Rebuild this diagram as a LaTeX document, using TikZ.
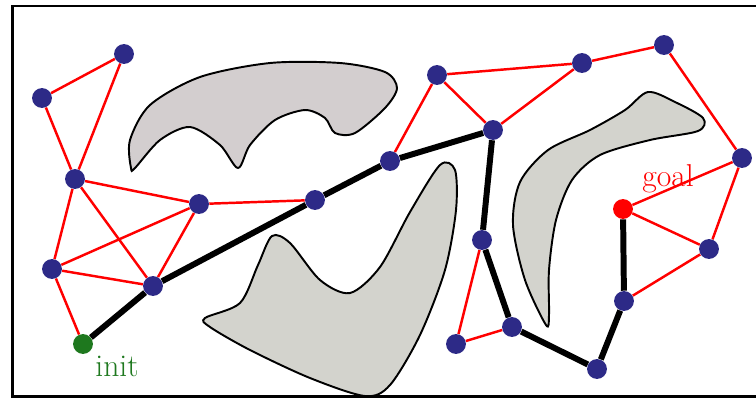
\documentclass[tikz,border=0pt]{standalone}
\usepackage{tikz}
\usetikzlibrary{positioning,backgrounds}
\definecolor{vblue}{RGB}{45,42,135}
\definecolor{igreen}{RGB}{30,120,30}
\definecolor{obsA}{RGB}{211,206,207}
\definecolor{obsB}{RGB}{211,211,205}

\begin{document}
\begin{tikzpicture}[x=0.02cm,y=-0.02cm,
    vertex/.style={circle,fill=vblue,inner sep=0pt,minimum size=11.3pt},
    edge/.style={red,line width=1.4pt},
    route/.style={black,line width=3.4pt,line join=round},
    obstacle/.style={draw=black,line width=1.1pt}]
  \useasboundingbox (0,0) rectangle (756,397);
  \clip (0,0) rectangle (756,397);
  % roadmap vertices
  \node[vertex] (v1) at (42,98) {};
  \node[vertex] (v2) at (124,54) {};
  \node[vertex] (v3) at (75,179) {};
  \node[vertex] (v4) at (52,269) {};
  \node[vertex] (v5) at (153,286) {};
  \node[vertex] (v6) at (199,204) {};
  \node[vertex] (v7) at (315,200) {};
  \node[vertex] (v8) at (390,161) {};
  \node[vertex] (v9) at (437,75) {};
  \node[vertex] (v10) at (493,130) {};
  \node[vertex] (v11) at (582,63) {};
  \node[vertex] (v12) at (664,45) {};
  \node[vertex] (v13) at (742,158) {};
  \node[vertex] (v14) at (709,249) {};
  \node[vertex] (v15) at (624,301) {};
  \node[vertex] (v16) at (597,369) {};
  \node[vertex] (v17) at (512,327) {};
  \node[vertex] (v18) at (482,240) {};
  \node[vertex] (v19) at (456,344) {};
  \node[vertex,fill=igreen] (init) at (83,344) {};
  \node[vertex,fill=red] (goal) at (623,209) {};
  \node[igreen,font=\fontsize{18}{20}\selectfont] (initlbl) at (117,366) {init};
  \node[red,font=\fontsize{18}{20}\selectfont] (goallbl) at (668,179) {goal};
  \begin{pgfonlayer}{background}
  \draw[line width=1.4pt] (12.5,6) rectangle (770,396.5);
  % obstacles
  \draw[obstacle,fill=obsA] plot[smooth cycle,tension=0.5] coordinates {
    (131,168) (130,140) (150,105) (200,77) (270,63) (340,63) (385,72)
    (397,88) (385,108) (355,133) (335,133) (325,118) (305,110) (275,120)
    (250,145) (238,168) (220,145) (190,127) (160,140) (135,168)};
  \draw[obstacle,fill=obsB] plot[smooth cycle,tension=0.5] coordinates {
    (205,318) (240,303) (258,265) (272,236) (290,243) (320,280) (350,293)
    (380,267) (410,212) (440,165) (455,170) (456,210) (445,270) (420,335)
    (390,385) (365,396) (310,378) (250,350) (210,327)};
  \draw[obstacle,fill=obsB] plot[smooth cycle,tension=0.5] coordinates {
    (546,325) (525,280) (513,225) (520,182) (548,150) (590,130) (625,110)
    (648,92) (675,102) (703,118) (698,131) (650,140) (600,155) (572,180)
    (556,220) (549,270) (549,315)};
  % roadmap edges
  \foreach \a/\b in {v1/v2,v1/v3,v2/v3,v3/v6,v3/v4,v3/v5,v4/v6,v4/v5,v4/init,
      v5/v6,v6/v7,v8/v9,v9/v10,v9/v11,v10/v11,v11/v12,v12/v13,v13/goal,
      v13/v14,goal/v14,v14/v15,v18/v19,v19/v17}
    \draw[edge] (\a) -- (\b);
  % path found
  \draw[route] (init) -- (v5) -- (v7) -- (v8) -- (v10) -- (v18)
    -- (v17) -- (v16) -- (v15) -- (goal);
  \end{pgfonlayer}
\end{tikzpicture}
\end{document}
